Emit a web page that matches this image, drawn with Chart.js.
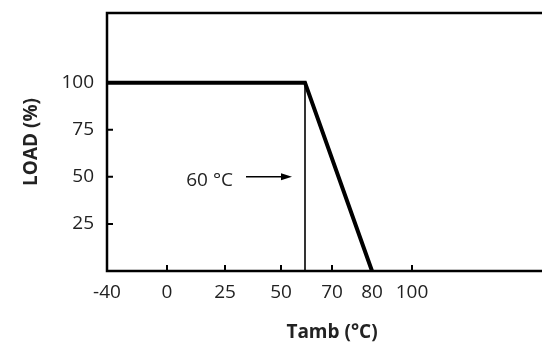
<!DOCTYPE html>
<html>
<head>
<meta charset="utf-8">
<script src="https://cdn.jsdelivr.net/npm/chart.js@4.4.1/dist/chart.umd.min.js"></script>
<style>
    html, body { margin: 0; padding: 0; background: #fff; overflow: hidden; width: 542px; height: 344px; }
    canvas { display: block; }
</style>
</head>
<body>
<canvas id="chart" width="560" height="344"></canvas>
<script>
// Dados do gráfico
const xTickValues = [-40, 0, 25, 50, 60, 70, 80, 100];
const xTickLabels = ['-40', '0', '25', '50', '', '70', '80', '100'];
const xTickMarks = [0, 25, 50, 70, 100];
const yTickValues = [25, 50, 75, 100];
const deratingTemp = [-40, 60, 80];
const deratingLoad = [100, 100, 0];
const markerTemp = [60, 60];
const markerLoad = [0, 100];
const markerText = '60 °C';

// eixo X não é linear no desenho original: posição de cada tick no eixo
const axisStops = [0, 60, 118, 174, 198, 225, 265, 305];

function toAxis(t) {
    const n = xTickValues.length;
    for (let i = 1; i < n; i++) {
        if (t <= xTickValues[i] || i === n - 1) {
            const t0 = xTickValues[i - 1], t1 = xTickValues[i];
            const a0 = axisStops[i - 1], a1 = axisStops[i];
            return a0 + (t - t0) * (a1 - a0) / (t1 - t0);
        }
    }
}

const textColor = '#222';
const fontFamily = '"Open Sans", "DejaVu Sans", sans-serif';

const framePlugin = {
    id: 'frame',
    afterDatasetsDraw(chart) {
        const ctx = chart.ctx;
        const area = chart.chartArea;
        const x = chart.scales.x;
        const y = chart.scales.y;
        ctx.save();
        // moldura aberta à direita (sai da imagem)
        ctx.strokeStyle = '#000';
        ctx.lineWidth = 2.5;
        ctx.beginPath();
        ctx.moveTo(chart.width + 5, area.top);
        ctx.lineTo(area.left, area.top);
        ctx.lineTo(area.left, area.bottom);
        ctx.lineTo(chart.width + 5, area.bottom);
        ctx.stroke();

        // marcas dos ticks, para dentro
        ctx.lineWidth = 2;
        ctx.beginPath();
        xTickMarks.forEach(function(t) {
            const px = x.getPixelForValue(toAxis(t));
            ctx.moveTo(px, area.bottom);
            ctx.lineTo(px, area.bottom - 6);
        });
        yTickValues.forEach(function(v) {
            const py = y.getPixelForValue(v);
            ctx.moveTo(area.left, py);
            ctx.lineTo(area.left + 6, py);
        });
        ctx.stroke();

        // seta e texto 60 °C
        const x60 = x.getPixelForValue(toAxis(markerTemp[0]));
        const y50 = y.getPixelForValue(50);
        ctx.lineWidth = 1.5;
        ctx.beginPath();
        ctx.moveTo(x60 - 59, y50);
        ctx.lineTo(x60 - 22, y50);
        ctx.stroke();
        ctx.fillStyle = '#000';
        ctx.beginPath();
        ctx.moveTo(x60 - 13, y50);
        ctx.lineTo(x60 - 24, y50 - 3.5);
        ctx.lineTo(x60 - 24, y50 + 3.5);
        ctx.closePath();
        ctx.fill();

        ctx.fillStyle = textColor;
        ctx.font = '19px ' + fontFamily;
        ctx.textAlign = 'right';
        ctx.textBaseline = 'middle';
        ctx.fillText(markerText, x60 - 72, y50 + 4);
        ctx.restore();
    }
};

new Chart(document.getElementById('chart').getContext('2d'), {
    type: 'line',
    data: {
        datasets: [
            {
                data: deratingTemp.map(function(t, i) { return { x: toAxis(t), y: deratingLoad[i] }; }),
                borderColor: '#000',
                borderWidth: 4,
                borderJoinStyle: 'miter',
                pointRadius: 0,
                tension: 0
            },
            {
                data: markerTemp.map(function(t, i) { return { x: toAxis(t), y: markerLoad[i] }; }),
                borderColor: '#000',
                borderWidth: 1.6,
                pointRadius: 0,
                tension: 0
            }
        ]
    },
    options: {
        responsive: false,
        animation: false,
        layout: { padding: { top: 13, right: 3, left: 0, bottom: 0 } },
        plugins: {
            legend: { display: false },
            tooltip: { enabled: false }
        },
        scales: {
            x: {
                type: 'linear',
                min: 0,
                max: 450,
                grid: { display: false, drawTicks: false },
                border: { display: false },
                afterBuildTicks: function(scale) {
                    scale.ticks = xTickValues.map(function(t) { return { value: toAxis(t) }; });
                },
                afterFit: function(scale) { scale.height = 73; },
                ticks: {
                    autoSkip: false,
                    maxRotation: 0,
                    padding: 10,
                    color: textColor,
                    font: { family: fontFamily, size: 19 },
                    callback: function(value, index) { return xTickLabels[index]; }
                },
                title: {
                    display: true,
                    text: 'Tamb (°C)',
                    color: textColor,
                    padding: 0,
                    font: { family: fontFamily, size: 19, weight: 'bold', lineHeight: 1.15 }
                }
            },
            y: {
                min: 0,
                max: 137,
                grid: { display: false, drawTicks: false },
                border: { display: false },
                afterBuildTicks: function(scale) {
                    scale.ticks = yTickValues.map(function(v) { return { value: v }; });
                },
                afterFit: function(scale) {
                    scale.width = 107;
                    scale.paddingTop = 0;
                    scale.paddingBottom = 0;
                },
                ticks: {
                    padding: 13,
                    color: textColor,
                    font: { family: fontFamily, size: 19 }
                },
                title: {
                    display: true,
                    text: 'LOAD (%)',
                    color: textColor,
                    padding: { top: 21, bottom: 0 },
                    font: { family: fontFamily, size: 19, weight: 'bold', lineHeight: 1.15 }
                }
            }
        }
    },
    plugins: [framePlugin]
});
</script>
</body>
</html>
